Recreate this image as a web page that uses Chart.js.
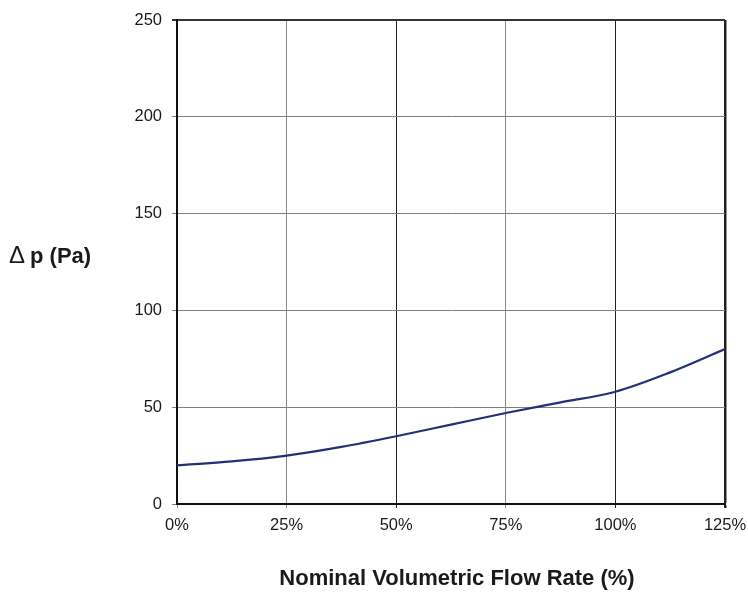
<!DOCTYPE html>
<html lang="en">
<head>
  <meta charset="UTF-8">
  <style>
    html, body { margin: 0; padding: 0; background: #fff; }
    #grafico { display: block; }
  </style>
</head>
<body>
  <canvas id="grafico" width="748" height="593" style="width:748px;height:593px"></canvas>

<script src="https://cdn.jsdelivr.net/npm/chart.js"></script>
<script>
  // valores
  const flowRate = [0, 12.5, 25, 37.5, 50, 62.5, 75, 87.5, 100, 112.5, 125];
  const pressureDrop = [20, 22, 25, 29.5, 35, 41, 47, 52.5, 58, 68, 80];
  const xTicks = [0, 25, 50, 75, 100, 125];
  const yTicks = [0, 50, 100, 150, 200, 250];

  const fonte = '"Liberation Sans", Arial, sans-serif';
  const corTexto = '#1a1a1a';

  // títulos dos eixos desenhados à mão (o do y fica na horizontal)
  const titulos = {
    id: 'titulos',
    afterDraw(chart) {
      const c = chart.ctx;
      c.save();
      c.fillStyle = corTexto;
      c.textBaseline = 'alphabetic';
      c.textAlign = 'center';
      c.font = 'bold 22px ' + fonte;
      c.fillText('Nominal Volumetric Flow Rate (%)', 457, 585);
      c.textAlign = 'left';
      c.font = '24px ' + fonte;
      c.fillText('Δ', 9, 263);
      c.font = 'bold 22px ' + fonte;
      c.fillText('p (Pa)', 30, 263);
      c.restore();
    }
  };

  new Chart(document.getElementById('grafico'), {
    type: 'scatter',
    data: {
      datasets: [{
        data: flowRate.map((x, i) => ({ x: x, y: pressureDrop[i] })),
        showLine: true,
        borderColor: '#22307a',
        borderWidth: 2.2,
        pointRadius: 0,
        cubicInterpolationMode: 'monotone'
      }]
    },
    options: {
      responsive: false,
      animation: false,
      layout: { padding: { top: 20, right: 23, left: 0, bottom: 0 } },
      plugins: {
        legend: { display: false },
        tooltip: { enabled: false }
      },
      scales: {
        x: {
          type: 'linear',
          min: 0,
          max: 125,
          afterFit(s) { s.height = 89; s.paddingLeft = 0; s.paddingRight = 0; },
          afterBuildTicks(s) { s.ticks = xTicks.map(v => ({ value: v })); },
          ticks: {
            padding: 8,
            color: corTexto,
            font: { family: fonte, size: 16.5 },
            callback: v => v + '%'
          },
          grid: {
            tickLength: 4,
            color: ctx => {
              const v = ctx.tick && ctx.tick.value;
              if (v === 125) return '#222';
              return (v === 50 || v === 100) ? '#222' : '#8a8a8a';
            },
            lineWidth: ctx => (ctx.tick && ctx.tick.value === 125) ? 2.5 : 1
          },
          border: { color: '#111', width: 2 }
        },
        y: {
          min: 0,
          max: 250,
          afterFit(s) { s.width = 177; s.paddingTop = 0; s.paddingBottom = 0; },
          afterBuildTicks(s) { s.ticks = yTicks.map(v => ({ value: v })); },
          ticks: {
            padding: 10,
            color: corTexto,
            font: { family: fonte, size: 16.5 }
          },
          grid: {
            tickLength: 5,
            color: ctx => (ctx.tick && ctx.tick.value === 250) ? '#333' : '#808080',
            lineWidth: ctx => (ctx.tick && ctx.tick.value === 250) ? 2 : 1
          },
          border: { color: '#111', width: 2 }
        }
      }
    },
    plugins: [titulos]
  });
</script>
</body>
</html>
